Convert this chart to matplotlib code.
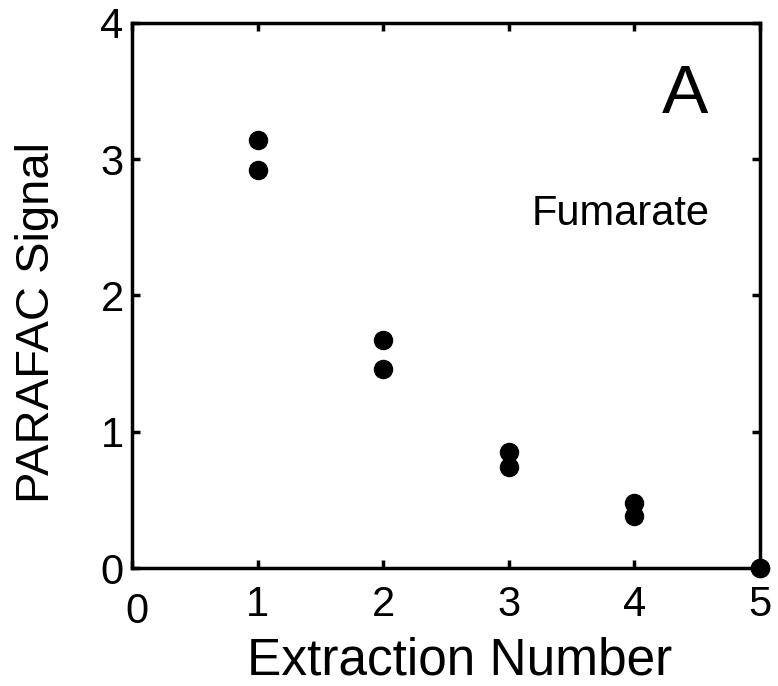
import matplotlib
matplotlib.use("Agg")
import matplotlib.pyplot as plt
import matplotlib.transforms as mtransforms

plt.rcParams['font.family'] = ['Liberation Sans', 'DejaVu Sans']

# extraction number vs signal (two replicates per extraction)
extraction = [1, 1, 2, 2, 3, 3, 4, 4, 5, 5]
signal = [3.14, 2.92, 1.67, 1.46, 0.85, 0.74, 0.48, 0.38, 0.0, 0.0]

xticks = [0, 1, 2, 3, 4, 5]
yticks = [0, 1, 2, 3, 4]

fig = plt.figure(figsize=(7.78, 6.86), dpi=100)
ax = fig.add_axes([0.1697, 0.172, 0.8072, 0.7945])

ax.plot(extraction, signal, 'o', color='black', markersize=13, clip_on=False)

ax.set_xlim(0, 5)
ax.set_ylim(0, 4)
ax.set_xticks(xticks)
ax.set_yticks(yticks)
ax.set_xticklabels([str(t) for t in xticks])
ax.set_yticklabels([str(t) for t in yticks])

for s in ax.spines.values():
    s.set_linewidth(2.5)
ax.tick_params(direction='in', top=True, right=True, length=6, width=2.5,
               labelsize=30)
ax.tick_params(axis='x', pad=12)
ax.tick_params(axis='y', pad=6)

# the "0" on the x axis sits a bit lower and to the right
lab0 = ax.get_xticklabels()[0]
lab0.set_transform(lab0.get_transform() +
                   mtransforms.ScaledTranslation(5 / 100, -7 / 100, fig.dpi_scale_trans))

ax.set_xlabel('Extraction Number', fontsize=37)
ax.xaxis.set_label_coords(0.522, -0.126)
ax.set_ylabel('PARAFAC Signal', fontsize=34)
ax.yaxis.set_label_coords(-0.117, 0.451)

ax.text(4.4, 3.47, 'A', fontsize=50, ha='center', va='center')
ax.text(3.89, 2.6, 'Fumarate', fontsize=30, ha='center', va='center')

fig.savefig('out.png', dpi=100)
